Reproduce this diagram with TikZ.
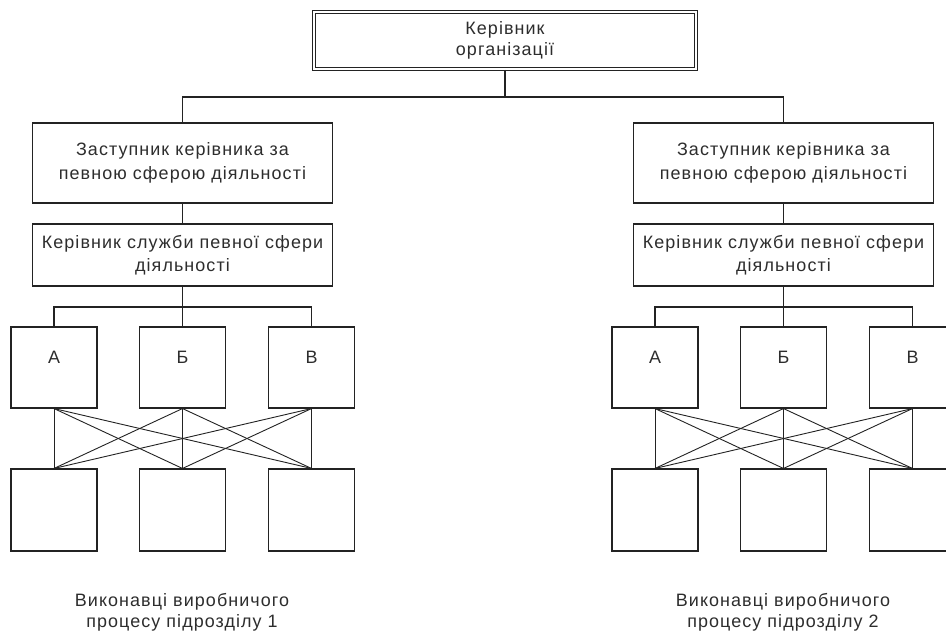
\documentclass[tikz,border=0pt]{standalone}
\usepackage{fontspec}
\setmainfont[LetterSpace=6]{Liberation Sans}
\definecolor{ink}{RGB}{35,35,35}
\definecolor{txt}{RGB}{45,45,45}
\tikzset{
  box/.style={draw=ink, line width=1.1bp, fill=white, inner sep=0pt, align=center, text=txt},
  topbox/.style={box, double=white, double distance=2bp, minimum width=382bp, minimum height=57.5bp},
  depbox/.style={box, minimum width=300bp, minimum height=80bp},
  svcbox/.style={box, minimum width=300bp, minimum height=62bp},
  unitbox/.style={box, minimum width=86bp, minimum height=81bp},
  conn/.style={draw=ink, line width=1.1bp},
  crossline/.style={draw=ink, line width=0.9bp},
  caption/.style={align=center, text=txt, inner sep=0pt},
  lbl/.style={text=txt, inner sep=0pt, yshift=10bp}
}
\newcommand{\txtsize}{\fontsize{18}{24}\selectfont}
\begin{document}
\begin{tikzpicture}[x=1bp, y=-1bp, font=\txtsize]
\clip (0,0) rectangle (946,633);
\fill[white] (0,0) rectangle (946,633);

\node[topbox, font=\fontsize{18}{20.5}\selectfont] (top) at (505,40.5) {Керівник\\організації};

\node[depbox] (dep1) at (182.5,163) {Заступник керівника за\\певною сферою діяльності};
\node[depbox] (dep2) at (783.5,163) {Заступник керівника за\\певною сферою діяльності};

\node[svcbox, font=\fontsize{18}{23}\selectfont] (svc1) at (182.5,255) {Керівник служби певної сфери\\діяльності};
\node[svcbox, font=\fontsize{18}{23}\selectfont] (svc2) at (783.5,255) {Керівник служби певної сфери\\діяльності};

% upper unit boxes
\node[unitbox, label={[lbl]center:А}] (a1) at (54,367.5) {};
\node[unitbox, label={[lbl]center:Б}] (b1) at (182.5,367.5) {};
\node[unitbox, label={[lbl]center:В}] (c1) at (311.5,367.5) {};
\node[unitbox, label={[lbl]center:А}] (a2) at (655,367.5) {};
\node[unitbox, label={[lbl]center:Б}] (b2) at (783.5,367.5) {};
\node[unitbox, label={[lbl]center:В}] (c2) at (912.5,367.5) {};

% lower unit boxes
\node[unitbox, minimum height=82bp] (d1) at (54,510) {};
\node[unitbox, minimum height=82bp] (e1) at (182.5,510) {};
\node[unitbox, minimum height=82bp] (f1) at (311.5,510) {};
\node[unitbox, minimum height=82bp] (d2) at (655,510) {};
\node[unitbox, minimum height=82bp] (e2) at (783.5,510) {};
\node[unitbox, minimum height=82bp] (f2) at (912.5,510) {};

\node[caption, font=\fontsize{18}{21}\selectfont] (cap1) at (182,612) {Виконавці виробничого\\процесу підрозділу 1};
\node[caption, font=\fontsize{18}{21}\selectfont] (cap2) at (783,612) {Виконавці виробничого\\процесу підрозділу 2};

% connectors
\coordinate (bar) at (505,97);
\draw[conn] (top.south) -- (bar);
\draw[conn] (dep1.north) |- (bar) -| (dep2.north);

\foreach \g/\x in {1/182.5, 2/783.5}{
  \draw[conn] (dep\g.south) -- (svc\g.north);
  \coordinate (g\g) at (\x,307);
  \draw[conn] (svc\g.south) -- (b\g.north);
  \draw[conn] (a\g.north) |- (g\g) -| (c\g.north);
  \foreach \u in {a,b,c}{
    \foreach \l in {d,e,f}{
      \draw[crossline] (\u\g.south) -- (\l\g.north);
    }
  }
}
\end{tikzpicture}
\end{document}
